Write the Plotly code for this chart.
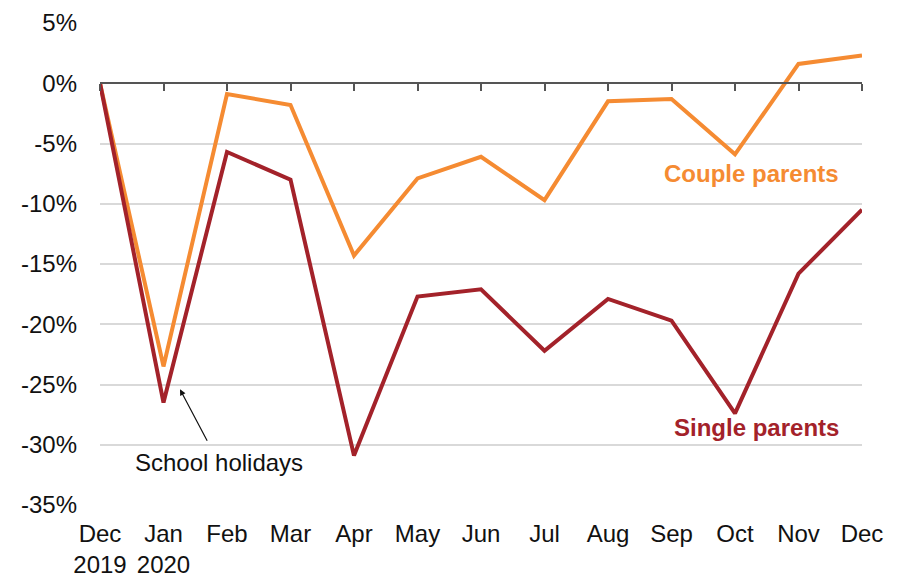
import plotly.graph_objects as go

months = ["Dec<br>2019", "Jan<br>2020", "Feb", "Mar", "Apr", "May", "Jun", "Jul", "Aug", "Sep", "Oct", "Nov", "Dec"]
couple = [0, -23.5, -0.9, -1.8, -14.3, -7.9, -6.1, -9.7, -1.5, -1.3, -5.9, 1.6, 2.3]
single = [0, -26.5, -5.7, -8.0, -30.9, -17.7, -17.1, -22.2, -17.9, -19.7, -27.4, -15.8, -10.5]
yticks = [5, 0, -5, -10, -15, -20, -25, -30, -35]

ORANGE = "#F58B32"
RED = "#A3222A"
FONT = "Liberation Sans, Arial, sans-serif"
FS = 24

x = list(range(len(months)))

fig = go.Figure()
fig.add_trace(go.Scatter(x=x, y=couple, mode="lines", line=dict(color=ORANGE, width=4), name="Couple parents"))
fig.add_trace(go.Scatter(x=x, y=single, mode="lines", line=dict(color=RED, width=4), name="Single parents"))
# invisible trace to activate the zero-line axis
fig.add_trace(go.Scatter(x=x, y=[0]*len(x), xaxis="x2", mode="lines", line=dict(width=0), hoverinfo="skip", showlegend=False))

fig.update_layout(
    width=905, height=577,
    margin=dict(l=92, r=51, t=15, b=80),
    plot_bgcolor="white", paper_bgcolor="white",
    showlegend=False,
    font=dict(family=FONT, size=FS, color="#111111"),
    xaxis=dict(range=[0, 12], tickmode="array", tickvals=x, ticktext=months,
               showgrid=False, zeroline=False, showline=False, ticks="",
               automargin=False, ticklabelstandoff=12,
               tickfont=dict(size=FS)),
    xaxis2=dict(range=[0, 12], overlaying="x", anchor="free", position=35/40, side="bottom",
                tickmode="array", tickvals=x, showticklabels=False, ticks="outside",
                ticklen=7, tickwidth=1.5, tickcolor="#555555",
                showline=True, linecolor="#555555", linewidth=1.5,
                showgrid=False, zeroline=False, automargin=False),
    yaxis=dict(range=[-35, 5], tickmode="array", tickvals=yticks,
               ticktext=[f"{v}%" for v in yticks],
               showgrid=True, gridcolor="#D9D9D9", gridwidth=1.5,
               zeroline=False, showline=False, ticks="", ticklabelstandoff=22,
               automargin=False, tickfont=dict(size=FS)),
)

fig.add_annotation(x=11.67, y=-7.5, text="<b>Couple parents</b>", showarrow=False,
                   xanchor="right", yanchor="middle", font=dict(color=ORANGE, size=FS))
fig.add_annotation(x=11.67, y=-28.6, text="<b>Single parents</b>", showarrow=False,
                   xanchor="right", yanchor="middle", font=dict(color=RED, size=FS))
fig.add_annotation(x=1.87, y=-31.5, text="School holidays", showarrow=False,
                   xanchor="center", yanchor="middle", font=dict(color="#111111", size=FS))
fig.add_annotation(x=1.26, y=-25.4, ax=1.70, ay=-29.8, axref="x", ayref="y",
                   text="", showarrow=True, arrowhead=2, arrowsize=1, arrowwidth=1.2,
                   arrowcolor="#111111")

fig.write_html("out.html")
